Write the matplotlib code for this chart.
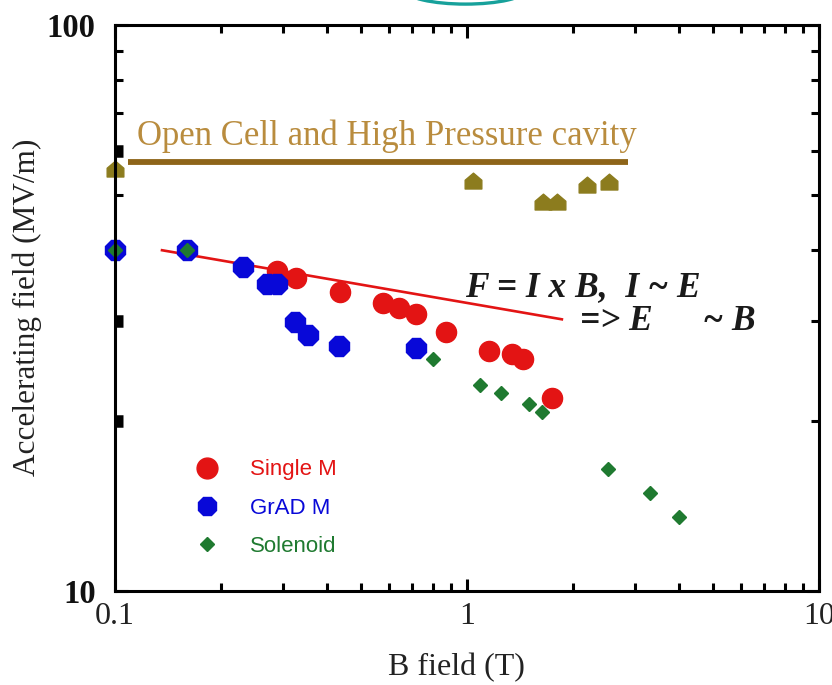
import matplotlib
matplotlib.use('Agg')
import matplotlib.pyplot as plt
from matplotlib.path import Path
from matplotlib.patches import Ellipse
from matplotlib.lines import Line2D
from matplotlib.ticker import FixedLocator, FixedFormatter, NullFormatter

# ---------------- data ----------------
single_x = [0.288, 0.327, 0.436, 0.577, 0.641, 0.716, 0.871, 1.155, 1.343, 1.442, 1.744]
single_y = [36.8, 35.7, 33.7, 32.3, 31.6, 30.9, 28.7, 26.5, 26.2, 25.7, 21.9]

grad_x = [0.100, 0.160, 0.231, 0.270, 0.288, 0.324, 0.353, 0.432, 0.716]
grad_y = [40.0, 40.0, 37.4, 34.9, 34.9, 29.9, 28.3, 27.1, 26.9]

sol_x = [0.100, 0.160, 0.800, 1.089, 1.249, 1.50, 1.633, 2.516, 3.31, 4.00]
sol_y = [40.0, 40.0, 25.7, 23.1, 22.4, 21.4, 20.7, 16.4, 14.9, 13.5]

oc_x = [0.100, 1.04, 1.64, 1.80, 2.19, 2.53]
oc_y = [55.7, 53.0, 48.6, 48.6, 52.1, 52.8]

oc_line_x = [0.109, 2.87]
oc_line_y = [57.3, 57.3]

fit_x = [0.136, 1.86]
fit_y = [40.0, 30.2]

x_major = [0.1, 1, 10]
x_major_labels = ['0.1', '1', '10']
x_minor = [0.2, 0.3, 0.4, 0.5, 0.6, 0.7, 0.8, 0.9, 2, 3, 4, 5, 6, 7, 8, 9]
y_major = [10, 100]
y_major_labels = ['10', '100']
y_minor = [20, 30, 40, 50, 60, 70, 80, 90]
heavy_left_ticks = [20, 30, 60]

legend_labels = ['Single M', 'GrAD M', 'Solenoid']

# ---------------- style ----------------
RED = '#e31414'
BLUE = '#0808d8'
GREEN = '#1f7a30'
OLIVE = '#8c7c1e'
TAN_LINE = '#8e6519'
TAN_TEXT = '#b98c3e'
SERIF = 'Liberation Serif'

W, H, DPI = 832, 685, 100
fig = plt.figure(figsize=(W / DPI, H / DPI), dpi=DPI, facecolor='white')
L, R, T, B = 115, 819, 25, 591
ax = fig.add_axes([L / W, 1 - B / H, (R - L) / W, (B - T) / H])
ax.set_xscale('log')
ax.set_yscale('log')
ax.set_xlim(0.1, 10)
ax.set_ylim(10, 100)

house = Path([(-1, -0.9), (1, -0.9), (1, 0.15), (0, 1), (-1, 0.15), (-1, -0.9)],
             [Path.MOVETO, Path.LINETO, Path.LINETO, Path.LINETO, Path.LINETO, Path.CLOSEPOLY])

# lines
ax.plot(oc_line_x, oc_line_y, color=TAN_LINE, lw=4.2, solid_capstyle='butt', zorder=2)
ax.plot(fit_x, fit_y, color=RED, lw=1.9, zorder=2)

# points
ax.plot(oc_x, oc_y, ls='none', marker=house, ms=12, color=OLIVE, mec=OLIVE, clip_on=False, zorder=3)
ax.plot(single_x, single_y, ls='none', marker='o', ms=14.5, color=RED, mec=RED, clip_on=False, zorder=3)
ax.plot(grad_x, grad_y, ls='none', marker='8', ms=15.5, color=BLUE, mec=BLUE, clip_on=False, zorder=4)
ax.plot(sol_x, sol_y, ls='none', marker='D', ms=7.4, color=GREEN, mec=GREEN, clip_on=False, zorder=5)

# spines & ticks
for s in ax.spines.values():
    s.set_linewidth(2.2)
    s.set_zorder(6)
ax.xaxis.set_major_locator(FixedLocator(x_major))
ax.xaxis.set_major_formatter(FixedFormatter(x_major_labels))
ax.xaxis.set_minor_locator(FixedLocator(x_minor))
ax.xaxis.set_minor_formatter(NullFormatter())
ax.yaxis.set_major_locator(FixedLocator(y_major))
ax.yaxis.set_major_formatter(FixedFormatter(y_major_labels))
ax.yaxis.set_minor_locator(FixedLocator(y_minor))
ax.yaxis.set_minor_formatter(NullFormatter())
ax.tick_params(which='both', direction='in', top=True, right=True, width=2.2, color='black')
ax.tick_params(which='major', length=9)
ax.tick_params(which='minor', length=5.5)
ax.tick_params(axis='x', which='major', pad=8, labelsize=23, labelcolor='#222222')
ax.tick_params(axis='y', which='major', pad=14, labelsize=23.5, labelcolor='#111111')
for lab in ax.get_xticklabels():
    lab.set_fontfamily(SERIF)
for lab in ax.get_yticklabels():
    lab.set_fontfamily(SERIF)
    lab.set_fontweight('bold')

for t, loc in zip(ax.yaxis.get_minor_ticks(), y_minor):
    if loc in heavy_left_ticks:
        t.tick1line.set_markersize(6)
        t.tick1line.set_markeredgewidth(9)

# axis labels
ax.set_xlabel('B field (T)', family=SERIF, fontsize=23, color='#222222', va='center', ha='center')
ax.xaxis.set_label_coords((456 - L) / (R - L), (B - 668) / (B - T))
ax.set_ylabel('Accelerating field (MV/m)', family=SERIF, fontsize=22.5, color='#222222',
              va='center', ha='center')
ax.yaxis.set_label_coords((27 - L) / (R - L), (B - 307) / (B - T))

# annotations
fig.text(137 / W, 1 - 145 / H, 'Open Cell and High Pressure cavity', family=SERIF,
         fontsize=25, color=TAN_TEXT, ha='left', va='baseline')
fig.text(465 / W, 1 - 288 / H, 'F = I x B,  I ~ E', family=SERIF, fontsize=25.5,
         fontweight='bold', fontstyle='italic', color='#1a1a1a', ha='left', va='center')
fig.text(580 / W, 1 - 321 / H, '=> E', family=SERIF, fontsize=25.5,
         fontweight='bold', fontstyle='italic', color='#1a1a1a', ha='left', va='center')
fig.text(703 / W, 1 - 321 / H, '~ B', family=SERIF, fontsize=25.5,
         fontweight='bold', fontstyle='italic', color='#1a1a1a', ha='left', va='center')

# legend
handles = [
    Line2D([], [], ls='none', marker='o', ms=15, color=RED, mec=RED),
    Line2D([], [], ls='none', marker='8', ms=14.5, color=BLUE, mec=BLUE),
    Line2D([], [], ls='none', marker='D', ms=7, color=GREEN, mec=GREEN),
]
leg = fig.legend(handles, legend_labels, loc='upper left',
                 bbox_to_anchor=(190.3 / W, 1 - 459.5 / H), bbox_transform=fig.transFigure,
                 frameon=False, borderpad=0, borderaxespad=0, handlelength=1.5,
                 handletextpad=1.19, labelspacing=0.78,
                 prop={'family': 'Liberation Sans', 'size': 16},
                 labelcolor='markerfacecolor')

# teal arc cut at the top edge (part of the original slide)
fig.add_artist(Ellipse((465.5 / W, 1 + 9.9 / H), 120 / W, 28 / H, transform=fig.transFigure,
                       fill=False, edgecolor='#17a19b', lw=2.4))

fig.savefig('out.png', dpi=DPI, facecolor='white')
